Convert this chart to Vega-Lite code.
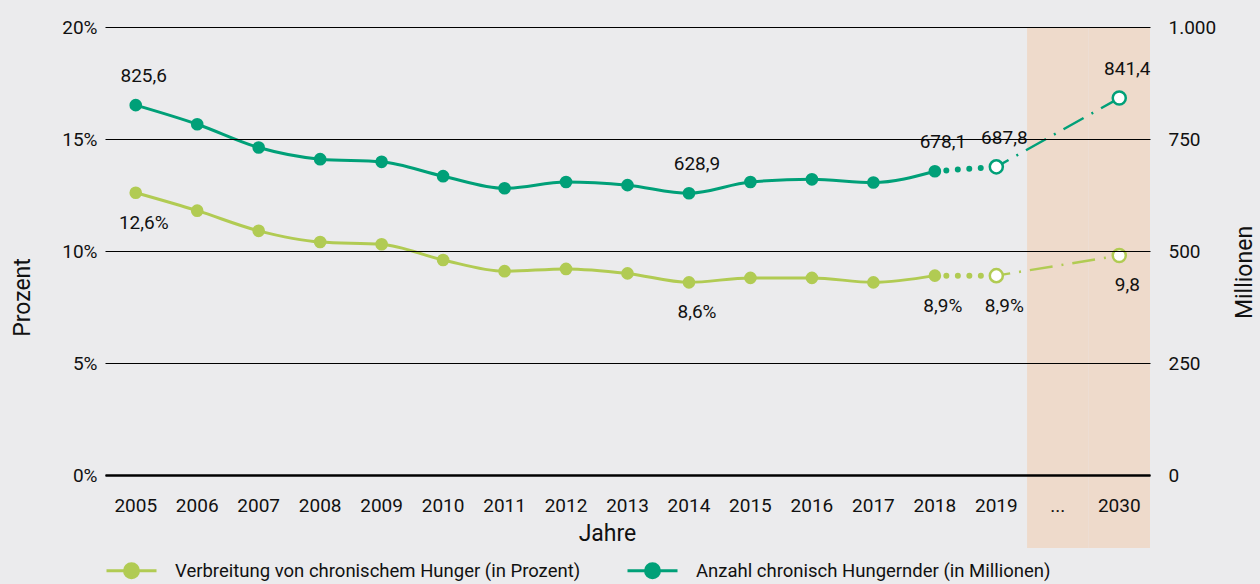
{
  "$schema": "https://vega.github.io/schema/vega-lite/v6.json",
  "width": 1045,
  "height": 448,
  "autosize": {"type": "none"},
  "padding": {"left": 105, "top": 27, "right": 110, "bottom": 109},
  "background": "#ebebed",
  "config": {
    "view": {"stroke": null},
    "font": "Roboto",
    "axis": {"labelColor": "#111111", "titleColor": "#111111", "labelFontSize": 19, "titleFontSize": 23, "titleFontWeight": "normal", "ticks": false, "tickSize": 0},
    "text": {"font": "Roboto", "fontSize": 19, "color": "#111111", "baseline": "middle"},
    "legend": {"labelFont": "Roboto", "labelFontSize": 18.5, "labelColor": "#111111", "labelLimit": 800}
  },
  "datasets": {
    "hunger": [
      {"year": "2005", "pct": 12.6, "mio": 825.6, "pctLabel": "12,6%", "mioLabel": "825,6"},
      {"year": "2006", "pct": 11.8, "mio": 783},
      {"year": "2007", "pct": 10.9, "mio": 731},
      {"year": "2008", "pct": 10.4, "mio": 705},
      {"year": "2009", "pct": 10.3, "mio": 699},
      {"year": "2010", "pct": 9.6, "mio": 667},
      {"year": "2011", "pct": 9.1, "mio": 640},
      {"year": "2012", "pct": 9.2, "mio": 654},
      {"year": "2013", "pct": 9.0, "mio": 647},
      {"year": "2014", "pct": 8.6, "mio": 628.9, "pctLabel": "8,6%", "mioLabel": "628,9"},
      {"year": "2015", "pct": 8.8, "mio": 654},
      {"year": "2016", "pct": 8.8, "mio": 660},
      {"year": "2017", "pct": 8.6, "mio": 653},
      {"year": "2018", "pct": 8.9, "mio": 678.1, "pctLabel": "8,9%", "mioLabel": "678,1"},
      {"year": "2019", "pct": 8.9, "mio": 687.8, "pctLabel": "8,9%", "mioLabel": "687,8"},
      {"year": "2030", "pct": 9.8, "mio": 841.4, "pctLabel": "9,8", "mioLabel": "841,4"}
    ],
    "shade": [{"year": "...", "top": 20, "bottom": -3.26}, {"year": "2030", "top": 20, "bottom": -3.26}]
  },
  "encoding": {
    "x": {
      "field": "year",
      "type": "nominal",
      "scale": {"type": "band", "domain": ["2005","2006","2007","2008","2009","2010","2011","2012","2013","2014","2015","2016","2017","2018","2019","...","2030"], "paddingInner": 0, "paddingOuter": 0},
      "axis": {"title": "Jahre", "labelAngle": 0, "labelBaseline": "middle", "labelPadding": 30, "domain": true, "domainColor": "#000000", "domainWidth": 2.3, "titleX": 502, "titleY": 58, "titleBaseline": "middle", "zindex": 2}
    }
  },
  "layer": [
    {
      "data": {"name": "shade"},
      "mark": {"type": "bar", "color": "#eedacb", "clip": false},
      "encoding": {
        "y": {"field": "top", "type": "quantitative", "scale": {"domain": [0, 20], "nice": false, "zero": false}, "axis": null},
        "y2": {"field": "bottom"}
      }
    },
    {
      "data": {"name": "hunger"},
      "encoding": {
        "y": {
          "field": "pct",
          "type": "quantitative",
          "scale": {"domain": [0, 20], "nice": false, "zero": false},
          "axis": {"orient": "left", "values": [0, 5, 10, 15, 20], "labelExpr": "datum.value + '%'", "labelPadding": 8, "grid": true, "gridColor": "#000000", "gridWidth": 1, "gridOpacity": 1, "domain": false, "title": "Prozent", "titleAngle": -90, "titleX": -83, "titleY": 270, "titleAlign": "center", "titleBaseline": "middle", "zindex": 1}
        }
      },
      "layer": [
        {
          "transform": [{"filter": "toNumber(datum.year) <= 2018"}],
          "mark": {"type": "line", "interpolate": "monotone", "strokeWidth": 3},
          "encoding": {
            "color": {"datum": "Verbreitung von chronischem Hunger (in Prozent)", "type": "nominal",
              "scale": {"domain": ["Verbreitung von chronischem Hunger (in Prozent)", "Anzahl chronisch Hungernder (in Millionen)"], "range": ["#b1cb53", "#00a078"]},
              "legend": {"title": null, "orient": "none", "direction": "horizontal", "columns": 2, "legendX": 0, "legendY": 517, "columnPadding": 40, "labelOffset": 17, "labelLimit": 800, "symbolType": "M-1,0H1M0.28,0A0.28,0.28,0,1,1,-0.28,0A0.28,0.28,0,1,1,0.28,0", "symbolSize": 2500, "symbolStrokeWidth": 3, "padding": 0,
                "encode": {"symbols": {"update": {"fill": {"scale": "color", "field": "value"}}}}}
            }
          }
        },
        {
          "transform": [{"filter": "datum.year == '2018' || datum.year == '2019'"}],
          "mark": {"type": "line", "color": "#b1cb53", "strokeWidth": 6, "strokeCap": "round", "strokeDash": [0, 11.5]},
          "encoding": {}
        },
        {
          "transform": [{"filter": "datum.year == '2019' || datum.year == '2030'"}],
          "mark": {"type": "line", "color": "#b1cb53", "strokeWidth": 2.5, "strokeDash": [23, 9, 2, 9], "strokeDashOffset": 9},
          "encoding": {}
        },
        {
          "transform": [{"filter": "toNumber(datum.year) <= 2018"}],
          "mark": {"type": "point", "filled": true, "color": "#b1cb53", "size": 160, "opacity": 1},
          "encoding": {}
        },
        {
          "transform": [{"filter": "datum.year == '2019' || datum.year == '2030'"}],
          "mark": {"type": "point", "filled": false, "fill": "#ffffff", "stroke": "#b1cb53", "strokeWidth": 2.5, "size": 170, "opacity": 1},
          "encoding": {}
        },
        {
          "transform": [{"filter": "isValid(datum.pctLabel)"}],
          "mark": {"type": "text", "dx": 8, "dy": 30},
          "encoding": {"text": {"field": "pctLabel"}}
        }
      ]
    },
    {
      "data": {"name": "hunger"},
      "encoding": {
        "y": {
          "field": "mio",
          "type": "quantitative",
          "scale": {"domain": [0, 1000], "nice": false, "zero": false},
          "axis": {"orient": "right", "values": [0, 250, 500, 750, 1000], "format": ",d", "labelExpr": "replace(datum.label, ',', '.')", "labelPadding": 18, "grid": false, "domain": false, "title": "Millionen", "titleAngle": -90, "titleX": 94, "titleY": 245, "titleAlign": "center", "titleBaseline": "middle", "zindex": 1}
        }
      },
      "layer": [
        {
          "transform": [{"filter": "toNumber(datum.year) <= 2018"}],
          "mark": {"type": "line", "interpolate": "monotone", "strokeWidth": 3},
          "encoding": {"color": {"datum": "Anzahl chronisch Hungernder (in Millionen)", "type": "nominal"}}
        },
        {
          "transform": [{"filter": "datum.year == '2018' || datum.year == '2019'"}],
          "mark": {"type": "line", "color": "#00a078", "strokeWidth": 6, "strokeCap": "round", "strokeDash": [0, 11.5]},
          "encoding": {}
        },
        {
          "transform": [{"filter": "datum.year == '2019' || datum.year == '2030'"}],
          "mark": {"type": "line", "color": "#00a078", "strokeWidth": 2.5, "strokeDash": [23, 9, 2, 9], "strokeDashOffset": 9},
          "encoding": {}
        },
        {
          "transform": [{"filter": "toNumber(datum.year) <= 2018"}],
          "mark": {"type": "point", "filled": true, "color": "#00a078", "size": 160, "opacity": 1},
          "encoding": {}
        },
        {
          "transform": [{"filter": "datum.year == '2019' || datum.year == '2030'"}],
          "mark": {"type": "point", "filled": false, "fill": "#ffffff", "stroke": "#00a078", "strokeWidth": 2.5, "size": 170, "opacity": 1},
          "encoding": {}
        },
        {
          "transform": [{"filter": "isValid(datum.mioLabel)"}],
          "mark": {"type": "text", "dx": 8, "dy": -29},
          "encoding": {"text": {"field": "mioLabel"}}
        }
      ]
    }
  ],
  "resolve": {"scale": {"y": "independent"}}
}
